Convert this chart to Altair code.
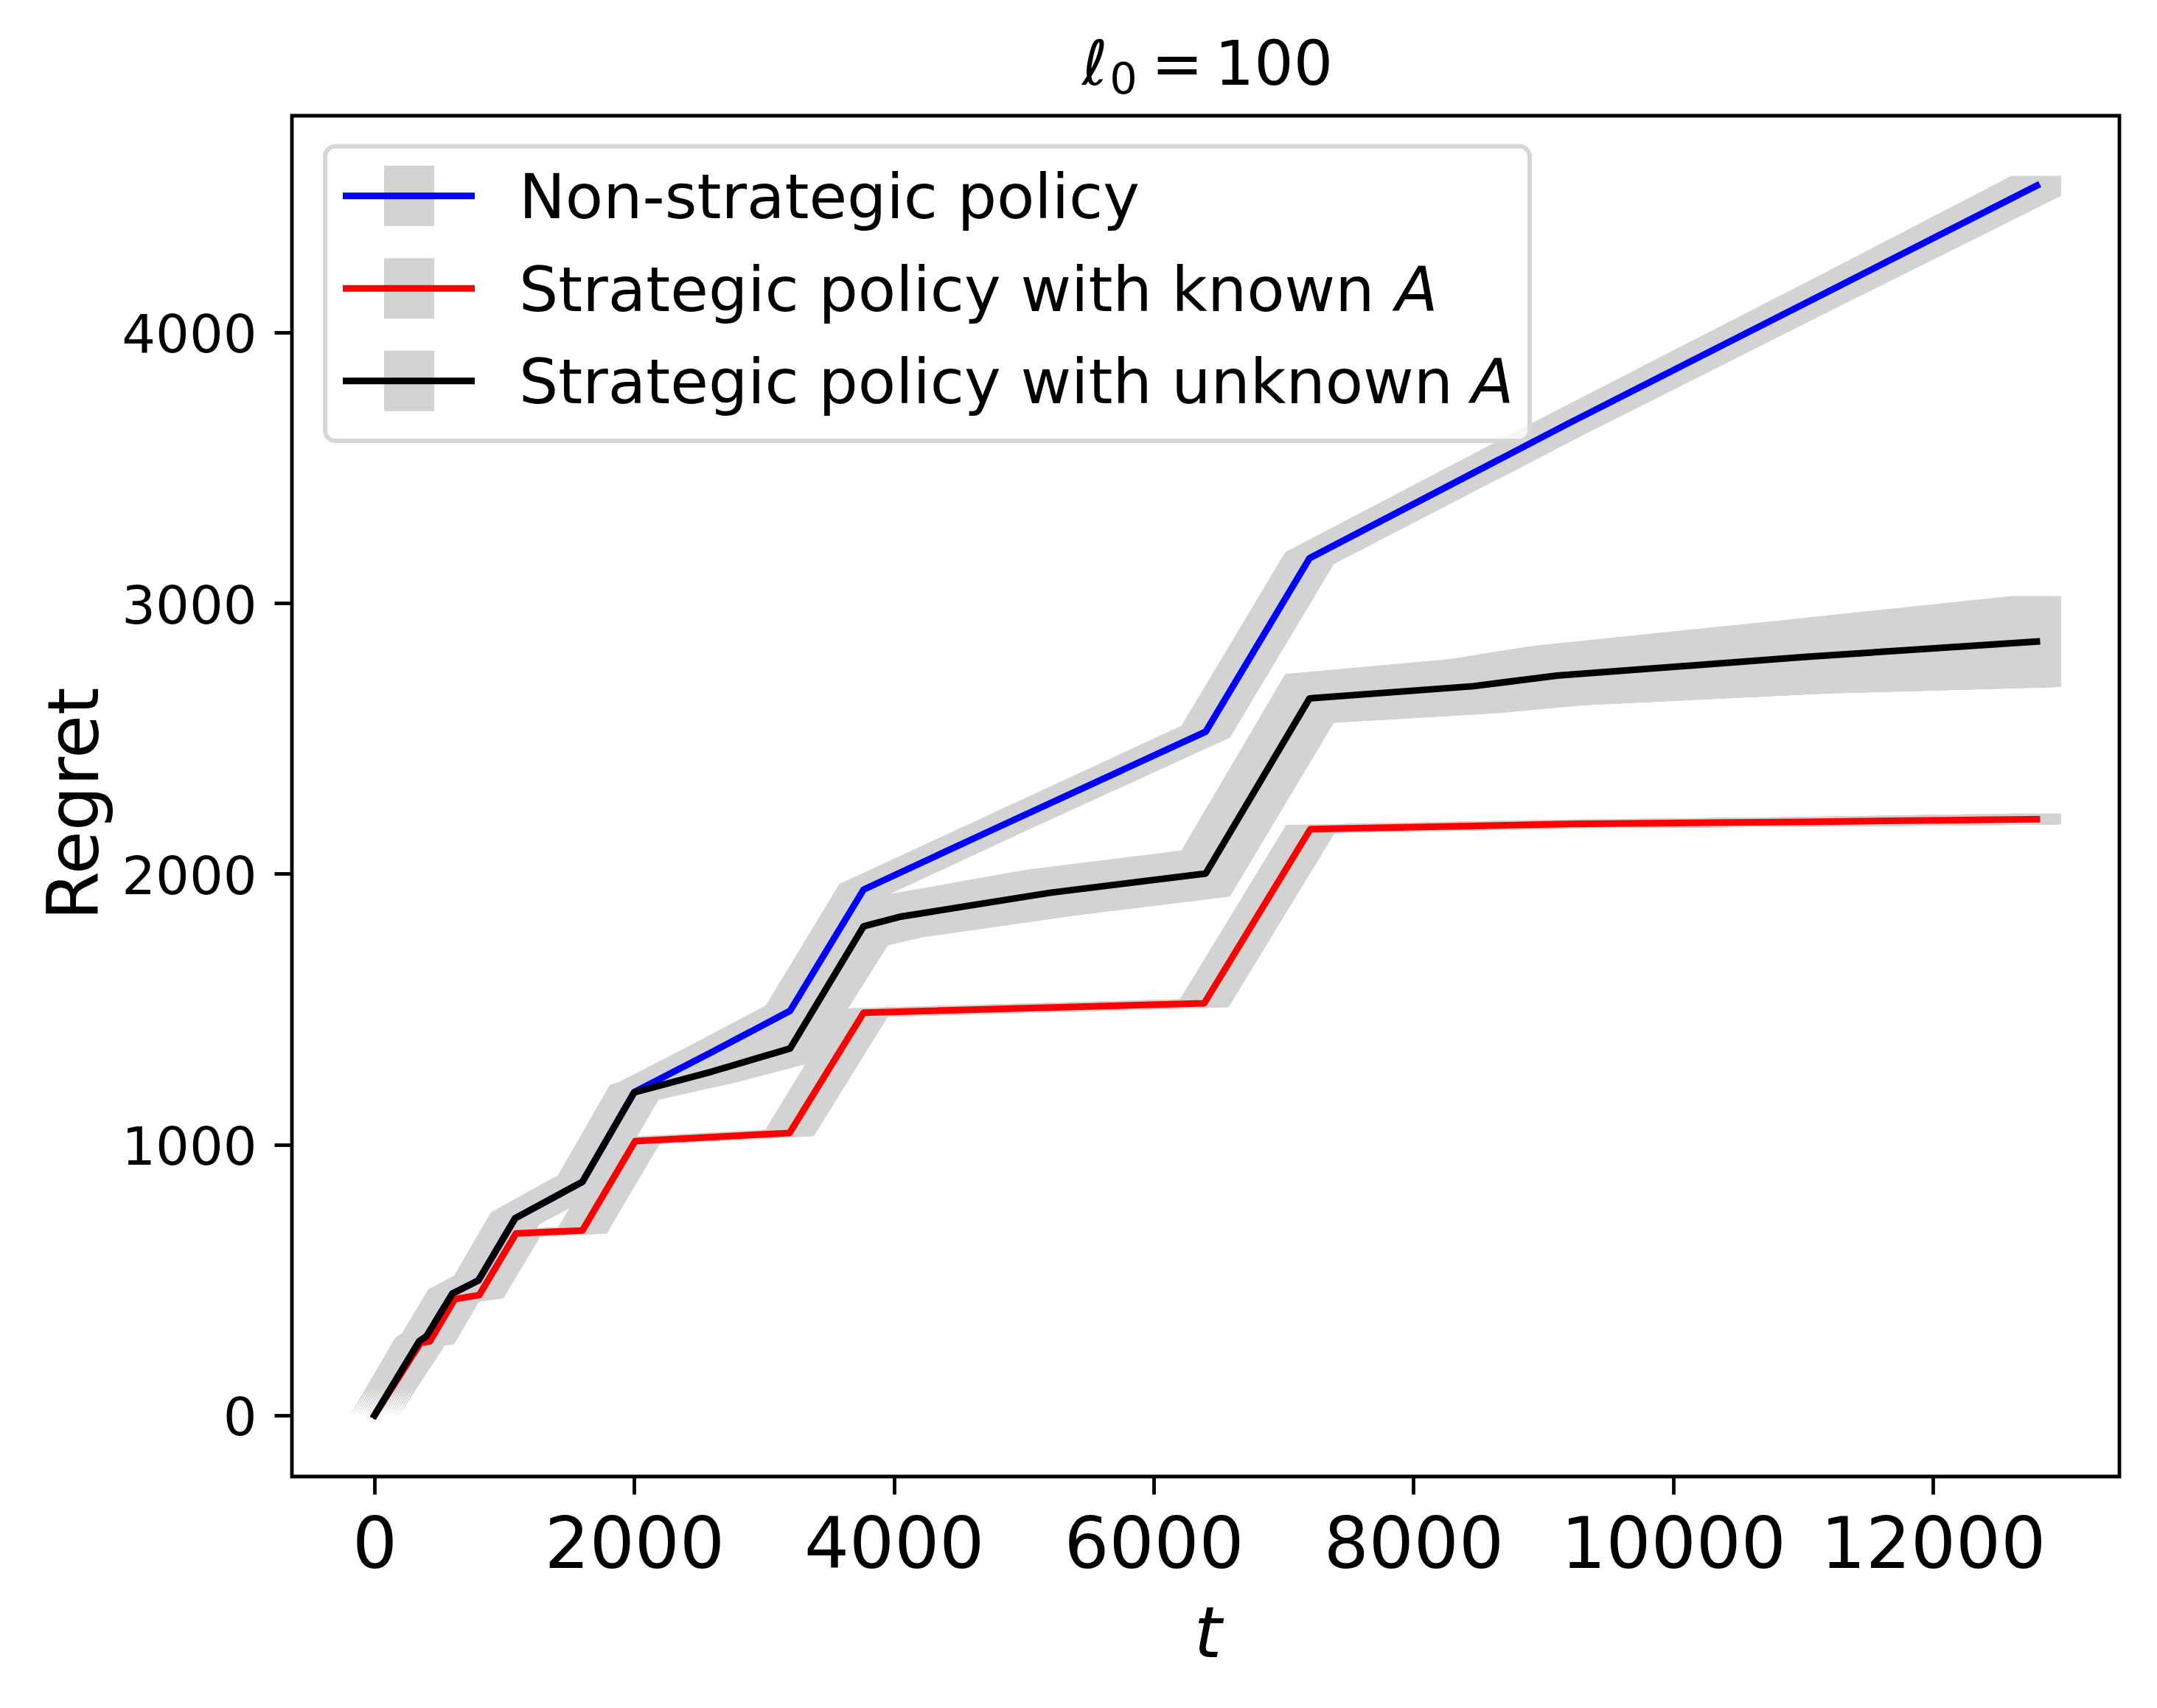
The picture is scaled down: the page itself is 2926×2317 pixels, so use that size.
import altair as alt
import pandas as pd

# ---------------- data ----------------
series_names = ["Non-strategic policy", "Strategic policy with known A", "Strategic policy with unknown A"]
series_colors = ["#0000ff", "#ff0000", "#000000"]

blue_t = [0, 345, 400, 600, 800, 1083, 1600, 2000, 2600, 3200, 3766, 4800, 6400, 7200, 9200, 11200, 12800]
blue_mean = [0, 274, 292, 450, 498, 728, 862, 1194, 1342, 1494, 1942, 2172, 2525, 3166, 3665, 4152, 4542]
blue_std = [0, 10, 10, 12, 14, 16, 18, 20, 20, 20, 20, 20, 22, 22, 25, 30, 38]

red_t = [0, 355, 426, 617, 806, 1090, 1601, 2007, 3196, 3766, 6389, 7206, 9200, 11000, 12800]
red_mean = [0, 268, 273, 429, 444, 672, 683, 1013, 1043, 1487, 1522, 2165, 2184, 2192, 2202]
red_std = [0, 10, 10, 10, 12, 12, 12, 12, 12, 15, 15, 15, 15, 17, 20]

black_t = [0, 345, 400, 600, 800, 1083, 1600, 2000, 2600, 3200, 3766, 4042, 5200, 6400, 7200, 8460, 9105, 11007, 12800]
black_mean = [0, 274, 292, 450, 498, 728, 862, 1193, 1270, 1355, 1806, 1841, 1930, 2001, 2648, 2693, 2732, 2801, 2858]
black_std = [0, 12, 12, 15, 18, 22, 25, 28, 40, 50, 70, 75, 85, 85, 90, 100, 110, 135, 168]

x_ticks = [0, 2000, 4000, 6000, 8000, 10000, 12000]
y_ticks = [0, 1000, 2000, 3000, 4000]
# title  "ℓ_0 = 100" split into its math pieces
title_parts = ["ℓ", "0", "=", "100"]

legend_plain = ["Non-strategic policy", "Strategic policy with known ", "Strategic policy with unknown "]
legend_italic = ["", "A", "A"]


def make_df(name, t, m, s):
    return pd.DataFrame({
        "series": name,
        "t": t,
        "mean": m,
        "lo": [a - b for a, b in zip(m, s)],
        "hi": [a + b for a, b in zip(m, s)],
    })


dfs = [
    make_df(series_names[0], blue_t, blue_mean, blue_std),
    make_df(series_names[1], red_t, red_mean, red_std),
    make_df(series_names[2], black_t, black_mean, black_std),
]
df_all = pd.concat(dfs, ignore_index=True)

FONT = "DejaVu Sans"
W, H = 2479, 1846

xscale = alt.Scale(domain=[-636, 13436], nice=False, zero=False)
yscale = alt.Scale(domain=[-226, 4800], nice=False, zero=False)

xaxis = alt.Axis(
    values=x_ticks, format="d", title="t", grid=False, domain=False,
    titleFont=FONT, titleFontSize=96, titleFontStyle="italic", titleFontWeight="normal",
    titleColor="black", titleX=1242, titleY=244, titleAlign="center", titleBaseline="alphabetic",
    labelFont=FONT, labelFontSize=96, labelColor="black", labelBaseline="alphabetic",
    labelPadding=99, labelFlush=False, labelOverlap=False, labelLimit=0,
    tickSize=24, tickWidth=4.8, tickColor="black",
)
yaxis = alt.Axis(
    values=y_ticks, format="d", title="Regret", grid=False, domain=False,
    titleFont=FONT, titleFontSize=96, titleFontWeight="normal", titleColor="black",
    titleX=-264, titleY=933, titleAngle=270, titleAlign="center", titleBaseline="alphabetic",
    labelFont=FONT, labelFontSize=72, labelColor="black", labelAlign="right",
    labelBaseline="alphabetic", labelOffset=27, labelPadding=24, labelFlush=False,
    labelOverlap=False, labelLimit=0,
    tickSize=24, tickWidth=4.8, tickColor="black",
)


def X():
    return alt.X("t:Q", scale=xscale, axis=xaxis)


def Y(field):
    return alt.Y(f"{field}:Q", scale=yscale, axis=yaxis)


layers = []

# grey error bands (thick vertical error bars -> band widened horizontally)
HALF = 33
offsets = [HALF * (k / 11.0) for k in range(-11, 12)]
for off in offsets:
    layers.append(
        alt.Chart(df_all).mark_area(color="#d3d3d3", xOffset=off, opacity=1).encode(
            x=X(), y=Y("lo"), y2="hi:Q", detail="series:N"
        )
    )

# mean lines
for d, c in zip(dfs, series_colors):
    layers.append(
        alt.Chart(d).mark_line(color=c, strokeWidth=9, strokeJoin="round", strokeCap="square").encode(
            x=X(), y=Y("mean")
        )
    )

# ---------------- title (math-style pieces) ----------------
title_style = [
    # (center x rel. to plot, baseline y rel. to plot, size, style)
    (1089, -42, 84, "italic"),
    (1128, -30, 59, "normal"),
    (1201, -42, 84, "normal"),
    (1332, -42, 84, "normal"),
]
for part, (cx, by, fs, st) in zip(title_parts, title_style):
    tdf = pd.DataFrame({"title": [part]})
    layers.append(
        alt.Chart(tdf).mark_text(align="center", baseline="alphabetic", font=FONT, fontSize=fs,
                                 fontStyle=st, color="black", clip=False).encode(
            x=alt.value(cx), y=alt.value(by), text="title:N"
        )
    )

# ---------------- legend ----------------
one = pd.DataFrame({"k": [0]})
layers.append(
    alt.Chart(one).mark_rect(fill="white", fillOpacity=0.8, stroke="#d6d6d6", strokeWidth=6, cornerRadius=14).encode(
        x=alt.value(45), x2=alt.value(1679), y=alt.value(41.5), y2=alt.value(441)
    )
)
row_center = [108.7, 234.2, 359.7]
for i in range(3):
    cy = row_center[i]
    layers.append(
        alt.Chart(one).mark_rect(fill="#d3d3d3").encode(
            x=alt.value(125), x2=alt.value(193), y=alt.value(cy - 41), y2=alt.value(cy + 41)
        )
    )
    layers.append(
        alt.Chart(one).mark_rule(color=series_colors[i], strokeWidth=9, strokeCap="butt").encode(
            x=alt.value(69), x2=alt.value(248), y=alt.value(cy)
        )
    )
    lab = pd.DataFrame({"label": [legend_plain[i]], "it": [legend_italic[i]]})
    layers.append(
        alt.Chart(lab).mark_text(align="left", baseline="alphabetic", font=FONT, fontSize=84, color="black").encode(
            x=alt.value(308), y=alt.value(cy + 30.5), text="label:N"
        )
    )
    if legend_italic[i]:
        ax = 1497 if i == 1 else 1600
        layers.append(
            alt.Chart(lab).mark_text(align="left", baseline="alphabetic", font=FONT, fontSize=84,
                                     fontStyle="italic", color="black").encode(
                x=alt.value(ax), y=alt.value(cy + 30.5), text="it:N"
            )
        )

chart = alt.layer(*layers).properties(
    width=W,
    height=H,
    padding={"left": 388, "top": 149, "right": 40, "bottom": 290},
    autosize="none",
    background="white",
).configure_view(stroke="black", strokeWidth=4.8)

chart.save("out.html", embed_options={"renderer": "svg", "actions": False})
